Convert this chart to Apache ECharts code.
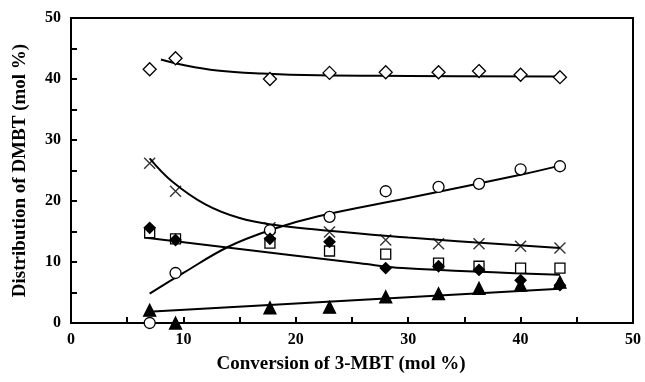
<!DOCTYPE html>
<html><head><meta charset="utf-8">
<script src="https://cdn.jsdelivr.net/npm/echarts@6/dist/echarts.min.js"></script>
<style>html,body{margin:0;padding:0;background:#fff}#c{width:645px;height:382px}</style>
</head><body><div id="c"></div>
<script>
const conv = [7.0, 9.3, 17.7, 23.0, 28.0, 32.7, 36.3, 40.0, 43.5];
const openDiamond = [41.6, 43.4, 40.0, 41.0, 41.1, 41.1, 41.3, 40.7, 40.3];
const cross = [26.2, 21.6, 15.6, 14.9, 13.6, 13.0, 13.0, 12.6, 12.3];
const circle = [0.0, 8.2, 15.2, 17.4, 21.6, 22.3, 22.8, 25.2, 25.7];
const filledDiamond = [15.6, 13.6, 13.8, 13.3, 9.0, 9.3, 8.7, 7.0, 6.2];
const openSquare = [14.8, 13.8, 13.1, 11.8, 11.3, 9.8, 9.3, 9.0, 9.0];
const triangle = [2.1, 0.0, 2.5, 2.6, 4.3, 4.8, 5.7, 6.2, 6.7];

const fitDiamond = [[8,43.2],[10,42.3],[13,41.4],[17,40.9],[22,40.6],[30,40.5],[43.5,40.4]];
const fitCross = [[7,27.0],[9,23.2],[12,19.4],[15,17.2],[18,16.1],[22,15.3],[30,14.0],[43.5,12.3]];
const fitCircle = [[7,4.8],[10,8.2],[14,12.5],[18,15.4],[22,17.5],[30,20.5],[40,24.3],[43.5,25.8]];
const fitDiamSq = [[6.5,14.0],[25.7,9.8],[29.5,9.0],[43.5,7.9]];
const fitTriangle = [[7.3,1.9],[43.5,5.6]];

const xTicks = {min:0, max:50, interval:5};
const yTicks = {min:0, max:50, interval:5};

const font = 'Liberation Serif';
const pair = (ys) => conv.map((x,i)=>[x, ys[i]]);
function scatter(ys, symbol, size, filled, extra){
  return Object.assign({type:'scatter', data:pair(ys), symbol:symbol, symbolSize:size,
    itemStyle:{color: filled ? '#000' : '#fff', borderColor:'#000', borderWidth:1.3, opacity:1}, z:5}, extra||{});
}
function fit(d){
  return {type:'line', data:d, smooth:0.4, showSymbol:false, symbol:'none',
    lineStyle:{color:'#000', width:2}, z:3, silent:true};
}
const chart = echarts.init(document.getElementById('c'), null, {renderer:'canvas'});
chart.setOption({
  animation:false,
  backgroundColor:'#fff',
  grid:{left:71, right:12, top:18, bottom:59, show:true, borderColor:'#000', borderWidth:2, backgroundColor:'transparent'},
  xAxis:{type:'value', min:xTicks.min, max:xTicks.max, interval:xTicks.interval,
    name:'Conversion of 3-MBT (mol %)', nameLocation:'middle', nameGap:32,
    nameTextStyle:{fontFamily:font, fontWeight:'bold', fontSize:19, color:'#000', padding:[0,22,0,0]},
    axisLine:{lineStyle:{color:'#000', width:2}},
    axisTick:{inside:true, length:6, lineStyle:{color:'#000', width:2}},
    axisLabel:{fontFamily:font, fontWeight:'bold', fontSize:16, color:'#000', margin:9,
      formatter:v => (v % 10 === 0 ? String(v) : '')},
    splitLine:{show:false}},
  yAxis:{type:'value', min:yTicks.min, max:yTicks.max, interval:yTicks.interval,
    name:'Distribution of DMBT (mol %)', nameLocation:'middle', nameGap:41, nameRotate:90,
    nameTextStyle:{fontFamily:font, fontWeight:'bold', fontSize:19, color:'#000'},
    axisLine:{lineStyle:{color:'#000', width:2}},
    axisTick:{inside:true, length:6, lineStyle:{color:'#000', width:2}},
    axisLabel:{fontFamily:font, fontWeight:'bold', fontSize:16, color:'#000', margin:10,
      formatter:v => (v % 10 === 0 ? String(v) : '')},
    splitLine:{show:false}},
  series:[
    fit(fitDiamond), fit(fitCross), fit(fitCircle), fit(fitDiamSq), fit(fitTriangle),
    scatter(openDiamond, 'diamond', 13, false),
    scatter(cross, 'path://M0,0L10,10M10,0L0,10', 11, false, {itemStyle:{color:'none', borderColor:'#000', borderWidth:1.4}}),
    scatter(circle, 'circle', 11, false),
    scatter(openSquare, 'rect', 10, false),
    scatter(filledDiamond, 'diamond', 11, true),
    scatter(triangle, 'triangle', 12, true)
  ]
});
</script></body></html>
